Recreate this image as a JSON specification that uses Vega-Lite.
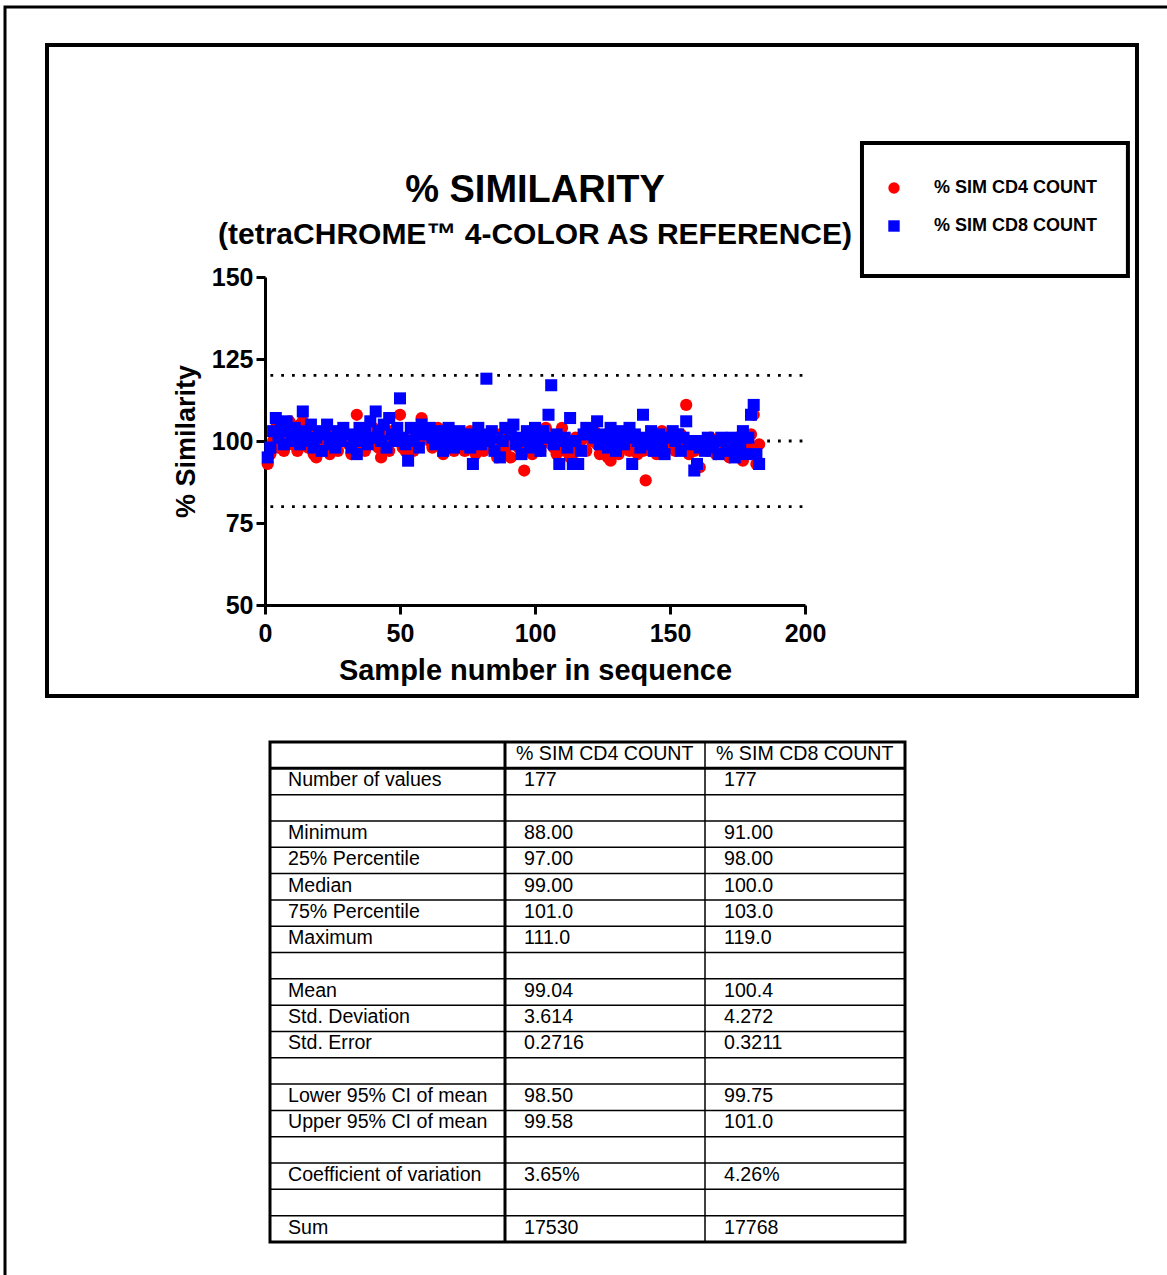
{
  "$schema": "https://vega.github.io/schema/vega-lite/v6.json",
  "width": 1170,
  "height": 1275,
  "autosize": {"type": "none"},
  "padding": {"left": 5, "top": 7, "right": 0, "bottom": 0},
  "background": "white",
  "config": {
    "font": "Liberation Sans",
    "view": {"stroke": "black", "strokeWidth": 3},
    "axis": {"grid": false}
  },
  "title": {
    "text": "% SIMILARITY",
    "subtitle": "(tetraCHROME™ 4-COLOR AS REFERENCE)",
    "anchor": "middle",
    "frame": "group",
    "dx": -55,
    "offset": -243,
    "fontSize": 38,
    "fontWeight": "bold",
    "color": "black",
    "subtitleFontSize": 30,
    "subtitleFontWeight": "bold",
    "subtitleColor": "black",
    "subtitleFont": "Liberation Sans",
    "subtitlePadding": 10
  },
  "datasets": {
    "scatter": [
      {"n":1,"cd4":93,"cd8":95},{"n":2,"cd4":96,"cd8":98},{"n":3,"cd4":100,"cd8":103},{"n":4,"cd4":104,"cd8":107},{"n":5,"cd4":98,"cd8":101},{"n":6,"cd4":101,"cd8":104},{"n":7,"cd4":97,"cd8":99},{"n":8,"cd4":103,"cd8":106},{"n":9,"cd4":106,"cd8":103},{"n":10,"cd4":99,"cd8":100},
      {"n":11,"cd4":102,"cd8":104},{"n":12,"cd4":97,"cd8":102},{"n":13,"cd4":105,"cd8":99},{"n":14,"cd4":106,"cd8":109},{"n":15,"cd4":100,"cd8":103},{"n":16,"cd4":98,"cd8":100},{"n":17,"cd4":103,"cd8":105},{"n":18,"cd4":96,"cd8":98},{"n":19,"cd4":95,"cd8":101},{"n":20,"cd4":101,"cd8":103},
      {"n":21,"cd4":99,"cd8":97},{"n":22,"cd4":97,"cd8":102},{"n":23,"cd4":100,"cd8":105},{"n":24,"cd4":96,"cd8":99},{"n":25,"cd4":102,"cd8":101},{"n":26,"cd4":98,"cd8":98},{"n":27,"cd4":97,"cd8":103},{"n":28,"cd4":101,"cd8":100},{"n":29,"cd4":100,"cd8":104},
      {"n":31,"cd4":99,"cd8":102},{"n":32,"cd4":96,"cd8":98},{"n":33,"cd4":98,"cd8":101},{"n":34,"cd4":108,"cd8":96},{"n":35,"cd4":103,"cd8":104},{"n":36,"cd4":100,"cd8":100},{"n":37,"cd4":97,"cd8":103},{"n":38,"cd4":101,"cd8":99},{"n":39,"cd4":99,"cd8":106},{"n":40,"cd4":104,"cd8":101},
      {"n":41,"cd4":100,"cd8":109},{"n":42,"cd4":98,"cd8":103},{"n":43,"cd4":95,"cd8":100},{"n":44,"cd4":102,"cd8":105},{"n":45,"cd4":99,"cd8":98},{"n":46,"cd4":97,"cd8":107},{"n":47,"cd4":103,"cd8":102},{"n":48,"cd4":100,"cd8":100},{"n":49,"cd4":101,"cd8":104},{"n":50,"cd4":108,"cd8":113},
      {"n":51,"cd4":98,"cd8":101},{"n":52,"cd4":97,"cd8":99},{"n":53,"cd4":99,"cd8":94},{"n":54,"cd4":101,"cd8":104},{"n":55,"cd4":97,"cd8":100},{"n":56,"cd4":103,"cd8":103},{"n":57,"cd4":100,"cd8":98},{"n":58,"cd4":107,"cd8":105},{"n":59,"cd4":102,"cd8":102},
      {"n":61,"cd4":100,"cd8":104},{"n":62,"cd4":98,"cd8":101},{"n":63,"cd4":101,"cd8":99},{"n":64,"cd4":104,"cd8":103},{"n":65,"cd4":99,"cd8":100},{"n":66,"cd4":96,"cd8":97},{"n":67,"cd4":100,"cd8":102},{"n":68,"cd4":98,"cd8":104},{"n":69,"cd4":102,"cd8":100},{"n":70,"cd4":97,"cd8":98},
      {"n":71,"cd4":99,"cd8":101},{"n":72,"cd4":101,"cd8":103},{"n":73,"cd4":98,"cd8":99},{"n":74,"cd4":97,"cd8":100},{"n":75,"cd4":100,"cd8":102},{"n":76,"cd4":103,"cd8":98},{"n":77,"cd4":99,"cd8":93},{"n":78,"cd4":96,"cd8":101},{"n":79,"cd4":102,"cd8":104},{"n":80,"cd4":98,"cd8":99},
      {"n":81,"cd4":97,"cd8":102},{"n":82,"cd4":100,"cd8":119},{"n":83,"cd4":101,"cd8":100},{"n":84,"cd4":99,"cd8":103},{"n":85,"cd4":98,"cd8":97},{"n":86,"cd4":95,"cd8":101},{"n":87,"cd4":102,"cd8":95},{"n":88,"cd4":100,"cd8":100},{"n":89,"cd4":97,"cd8":104},
      {"n":91,"cd4":95,"cd8":102},{"n":92,"cd4":99,"cd8":105},{"n":93,"cd4":101,"cd8":99},{"n":94,"cd4":98,"cd8":101},{"n":95,"cd4":97,"cd8":96},{"n":96,"cd4":91,"cd8":100},{"n":97,"cd4":100,"cd8":103},{"n":98,"cd4":99,"cd8":98},{"n":99,"cd4":96,"cd8":101},{"n":100,"cd4":102,"cd8":104},
      {"n":101,"cd4":103,"cd8":100},{"n":102,"cd4":97,"cd8":97},{"n":103,"cd4":100,"cd8":103},{"n":104,"cd4":104,"cd8":101},{"n":105,"cd4":101,"cd8":108},{"n":106,"cd4":99,"cd8":117},{"n":107,"cd4":98,"cd8":99},{"n":108,"cd4":96,"cd8":102},{"n":109,"cd4":100,"cd8":93},{"n":110,"cd4":104,"cd8":100},
      {"n":111,"cd4":97,"cd8":101},{"n":112,"cd4":99,"cd8":98},{"n":113,"cd4":95,"cd8":107},{"n":114,"cd4":96,"cd8":93},{"n":115,"cd4":101,"cd8":100},{"n":116,"cd4":98,"cd8":93},{"n":117,"cd4":100,"cd8":97},{"n":118,"cd4":102,"cd8":102},{"n":119,"cd4":97,"cd8":104},
      {"n":121,"cd4":100,"cd8":103},{"n":122,"cd4":103,"cd8":101},{"n":123,"cd4":99,"cd8":106},{"n":124,"cd4":96,"cd8":99},{"n":125,"cd4":101,"cd8":102},{"n":126,"cd4":98,"cd8":100},{"n":127,"cd4":95,"cd8":98},{"n":128,"cd4":94,"cd8":104},{"n":129,"cd4":100,"cd8":101},{"n":130,"cd4":97,"cd8":97},
      {"n":131,"cd4":96,"cd8":100},{"n":132,"cd4":99,"cd8":103},{"n":133,"cd4":101,"cd8":99},{"n":134,"cd4":98,"cd8":101},{"n":135,"cd4":97,"cd8":104},{"n":136,"cd4":102,"cd8":93},{"n":137,"cd4":100,"cd8":102},{"n":138,"cd4":96,"cd8":100},{"n":139,"cd4":99,"cd8":98},{"n":140,"cd4":97,"cd8":108},
      {"n":141,"cd4":88,"cd8":101},{"n":142,"cd4":98,"cd8":99},{"n":143,"cd4":97,"cd8":103},{"n":144,"cd4":101,"cd8":97},{"n":145,"cd4":96,"cd8":100},{"n":146,"cd4":99,"cd8":102},{"n":147,"cd4":103,"cd8":98},{"n":148,"cd4":98,"cd8":96},{"n":149,"cd4":100,"cd8":101},
      {"n":151,"cd4":99,"cd8":103},{"n":152,"cd4":97,"cd8":100},{"n":153,"cd4":100,"cd8":102},{"n":154,"cd4":102,"cd8":97},{"n":155,"cd4":98,"cd8":101},{"n":156,"cd4":111,"cd8":106},{"n":157,"cd4":96,"cd8":99},{"n":158,"cd4":99,"cd8":100},{"n":159,"cd4":97,"cd8":91},{"n":160,"cd4":100,"cd8":93},
      {"n":161,"cd4":92,"cd8":98},{"n":162,"cd4":98,"cd8":100},{"n":163,"cd4":100,"cd8":97},{"n":164,"cd4":97,"cd8":101},{"n":165,"cd4":101,"cd8":99},{"n":166,"cd4":99,"cd8":98},{"n":167,"cd4":96,"cd8":100},{"n":168,"cd4":98,"cd8":96},{"n":169,"cd4":100,"cd8":101},
      {"n":171,"cd4":97,"cd8":99},{"n":172,"cd4":95,"cd8":97},{"n":173,"cd4":99,"cd8":101},{"n":174,"cd4":98,"cd8":95},{"n":175,"cd4":101,"cd8":100},{"n":176,"cd4":97,"cd8":98},{"n":177,"cd4":94,"cd8":103},{"n":178,"cd4":100,"cd8":96},{"n":179,"cd4":98,"cd8":101},{"n":180,"cd4":102,"cd8":108},
      {"n":181,"cd4":108,"cd8":111},{"n":182,"cd4":93,"cd8":96},{"n":183,"cd4":99,"cd8":93}
    ],
    "table": [
      {"i":0,"stat":"","cd4":"% SIM CD4 COUNT","cd8":"% SIM CD8 COUNT"},
      {"i":1,"stat":"Number of values","cd4":"177","cd8":"177"},
      {"i":2,"stat":"","cd4":"","cd8":""},
      {"i":3,"stat":"Minimum","cd4":"88.00","cd8":"91.00"},
      {"i":4,"stat":"25% Percentile","cd4":"97.00","cd8":"98.00"},
      {"i":5,"stat":"Median","cd4":"99.00","cd8":"100.0"},
      {"i":6,"stat":"75% Percentile","cd4":"101.0","cd8":"103.0"},
      {"i":7,"stat":"Maximum","cd4":"111.0","cd8":"119.0"},
      {"i":8,"stat":"","cd4":"","cd8":""},
      {"i":9,"stat":"Mean","cd4":"99.04","cd8":"100.4"},
      {"i":10,"stat":"Std. Deviation","cd4":"3.614","cd8":"4.272"},
      {"i":11,"stat":"Std. Error","cd4":"0.2716","cd8":"0.3211"},
      {"i":12,"stat":"","cd4":"","cd8":""},
      {"i":13,"stat":"Lower 95% CI of mean","cd4":"98.50","cd8":"99.75"},
      {"i":14,"stat":"Upper 95% CI of mean","cd4":"99.58","cd8":"101.0"},
      {"i":15,"stat":"","cd4":"","cd8":""},
      {"i":16,"stat":"Coefficient of variation","cd4":"3.65%","cd8":"4.26%"},
      {"i":17,"stat":"","cd4":"","cd8":""},
      {"i":18,"stat":"Sum","cd4":"17530","cd8":"17768"}
    ]
  },
  "layer": [
    {
      "layer": [
        {
          "data": {"values": [{"ref": 120}, {"ref": 100}, {"ref": 80}]},
          "mark": {"type": "rule", "color": "black", "strokeWidth": 2.8, "strokeDash": [2.8, 8], "strokeCap": "butt"},
          "encoding": {
            "x": {"datum": 2, "type": "quantitative"},
            "x2": {"datum": 200},
            "y": {"field": "ref", "type": "quantitative"}
          }
        },
        {
          "data": {"name": "scatter"},
          "transform": [
            {"fold": ["cd4", "cd8"], "as": ["series", "value"]},
            {"filter": "datum.series == 'cd4'"}
          ],
          "mark": {"type": "point", "filled": true, "opacity": 1, "size": 150},
          "encoding": {
            "x": {
              "field": "n", "type": "quantitative",
              "scale": {"domain": [0, 200], "range": [260, 800], "nice": false, "zero": false},
              "axis": {
                "orient": "bottom", "offset": -677, "values": [0, 50, 100, 150, 200],
                "domainColor": "black", "domainWidth": 3, "tickColor": "black", "tickWidth": 3, "tickSize": 9,
                "labelFontSize": 25, "labelFontWeight": "bold", "labelColor": "black", "labelPadding": 7,
                "labelFlush": false, "labelOverlap": false,
                "title": "Sample number in sequence", "titleFontSize": 29, "titleFontWeight": "bold", "titleColor": "black", "titlePadding": 10
              }
            },
            "y": {
              "field": "value", "type": "quantitative",
              "scale": {"domain": [50, 150], "range": [598, 270], "nice": false, "zero": false},
              "axis": {
                "orient": "left", "offset": -260, "values": [50, 75, 100, 125, 150],
                "domainColor": "black", "domainWidth": 3, "tickColor": "black", "tickWidth": 3, "tickSize": 9,
                "labelFontSize": 25, "labelFontWeight": "bold", "labelColor": "black", "labelPadding": 3,
                "labelFlush": false, "labelOverlap": false,
                "title": "% Similarity", "titleFontSize": 27, "titleFontWeight": "bold", "titleColor": "black", "titlePadding": 11
              }
            },
            "color": {
              "field": "series", "type": "nominal",
              "scale": {"domain": ["cd4", "cd8"], "range": ["#ff0000", "#0000ff"]},
              "legend": {
                "orient": "none", "legendX": 880, "legendY": 172, "title": null, "padding": 0,
                "labelExpr": "datum.label == 'cd4' ? '% SIM  CD4 COUNT' : '% SIM  CD8 COUNT'",
                "labelFontSize": 18, "labelFontWeight": "bold", "labelColor": "black", "labelLimit": 400,
                "labelOffset": 31, "rowPadding": 20, "symbolSize": 130, "symbolStrokeWidth": 0
              }
            },
            "shape": {
              "field": "series", "type": "nominal",
              "scale": {"domain": ["cd4", "cd8"], "range": ["circle", "square"]},
              "legend": {
                "orient": "none", "legendX": 880, "legendY": 172, "title": null, "padding": 0,
                "labelExpr": "datum.label == 'cd4' ? '% SIM  CD4 COUNT' : '% SIM  CD8 COUNT'",
                "labelFontSize": 18, "labelFontWeight": "bold", "labelColor": "black", "labelLimit": 400,
                "labelOffset": 31, "rowPadding": 20, "symbolSize": 130, "symbolStrokeWidth": 0
              }
            }
          }
        },
        {
          "data": {"name": "scatter"},
          "transform": [
            {"fold": ["cd4", "cd8"], "as": ["series", "value"]},
            {"filter": "datum.series == 'cd8'"}
          ],
          "mark": {"type": "point", "filled": true, "opacity": 1, "size": 145},
          "encoding": {
            "x": {"field": "n", "type": "quantitative"},
            "y": {"field": "value", "type": "quantitative"},
            "color": {"field": "series", "type": "nominal"},
            "shape": {"field": "series", "type": "nominal"}
          }
        },
        {
          "data": {"values": [{}]},
          "mark": {"type": "rect", "fillOpacity": 0, "stroke": "black", "strokeWidth": 4},
          "encoding": {
            "x": {"datum": -80.74, "type": "quantitative"},
            "x2": {"datum": 322.96},
            "y": {"datum": 220.73, "type": "quantitative"},
            "y2": {"datum": 22.26}
          }
        },
        {
          "data": {"values": [{}]},
          "mark": {"type": "rect", "fillOpacity": 0, "stroke": "black", "strokeWidth": 4},
          "encoding": {
            "x": {"datum": 221.1, "type": "quantitative"},
            "x2": {"datum": 319.6},
            "y": {"datum": 190.85, "type": "quantitative"},
            "y2": {"datum": 150.3}
          }
        }
      ]
    },
    {
      "data": {"name": "table"},
      "layer": [
        {
          "transform": [{"filter": "datum.i >= 1"}],
          "mark": {"type": "rule", "color": "black"},
          "encoding": {
            "x": {"datum": 0, "type": "quantitative", "scale": {"domain": [0, 1, 3], "range": [265, 500, 900], "nice": false, "zero": false}, "axis": null},
            "x2": {"datum": 3},
            "y": {"field": "i", "type": "quantitative", "scale": {"domain": [0, 19], "range": [735, 1235], "nice": false, "zero": false}, "axis": null},
            "strokeWidth": {"condition": {"test": "datum.i == 1", "value": 3}, "value": 1.5}
          }
        },
        {
          "data": {"values": [{}]},
          "mark": {"type": "rule", "color": "black", "strokeWidth": 3},
          "encoding": {
            "x": {"datum": 1, "type": "quantitative"},
            "y": {"datum": 0, "type": "quantitative"},
            "y2": {"datum": 19}
          }
        },
        {
          "data": {"values": [{}]},
          "mark": {"type": "rule", "color": "black", "strokeWidth": 1.5},
          "encoding": {
            "x": {"datum": 2, "type": "quantitative"},
            "y": {"datum": 0, "type": "quantitative"},
            "y2": {"datum": 19}
          }
        },
        {
          "data": {"values": [{}]},
          "mark": {"type": "rect", "fillOpacity": 0, "stroke": "black", "strokeWidth": 3},
          "encoding": {
            "x": {"datum": 0, "type": "quantitative"},
            "x2": {"datum": 3},
            "y": {"datum": 0, "type": "quantitative"},
            "y2": {"datum": 19}
          }
        },
        {
          "transform": [{"filter": "datum.i == 0"}],
          "mark": {"type": "text", "align": "left", "baseline": "alphabetic", "dx": 11, "dy": 18, "fontSize": 19.6, "color": "black"},
          "encoding": {
            "x": {"datum": 1, "type": "quantitative"},
            "y": {"field": "i", "type": "quantitative"},
            "text": {"field": "cd4"}
          }
        },
        {
          "transform": [{"filter": "datum.i == 0"}],
          "mark": {"type": "text", "align": "left", "baseline": "alphabetic", "dx": 11, "dy": 18, "fontSize": 19.6, "color": "black"},
          "encoding": {
            "x": {"datum": 2, "type": "quantitative"},
            "y": {"field": "i", "type": "quantitative"},
            "text": {"field": "cd8"}
          }
        },
        {
          "transform": [{"filter": "datum.i >= 1"}],
          "mark": {"type": "text", "align": "left", "baseline": "alphabetic", "dx": 18, "dy": 18, "fontSize": 19.6, "color": "black"},
          "encoding": {
            "x": {"datum": 0, "type": "quantitative"},
            "y": {"field": "i", "type": "quantitative"},
            "text": {"field": "stat"}
          }
        },
        {
          "transform": [{"filter": "datum.i >= 1"}],
          "mark": {"type": "text", "align": "left", "baseline": "alphabetic", "dx": 19, "dy": 18, "fontSize": 19.6, "color": "black"},
          "encoding": {
            "x": {"datum": 1, "type": "quantitative"},
            "y": {"field": "i", "type": "quantitative"},
            "text": {"field": "cd4"}
          }
        },
        {
          "transform": [{"filter": "datum.i >= 1"}],
          "mark": {"type": "text", "align": "left", "baseline": "alphabetic", "dx": 19, "dy": 18, "fontSize": 19.6, "color": "black"},
          "encoding": {
            "x": {"datum": 2, "type": "quantitative"},
            "y": {"field": "i", "type": "quantitative"},
            "text": {"field": "cd8"}
          }
        }
      ]
    }
  ],
  "resolve": {"scale": {"x": "independent", "y": "independent"}, "axis": {"x": "independent", "y": "independent"}}
}
